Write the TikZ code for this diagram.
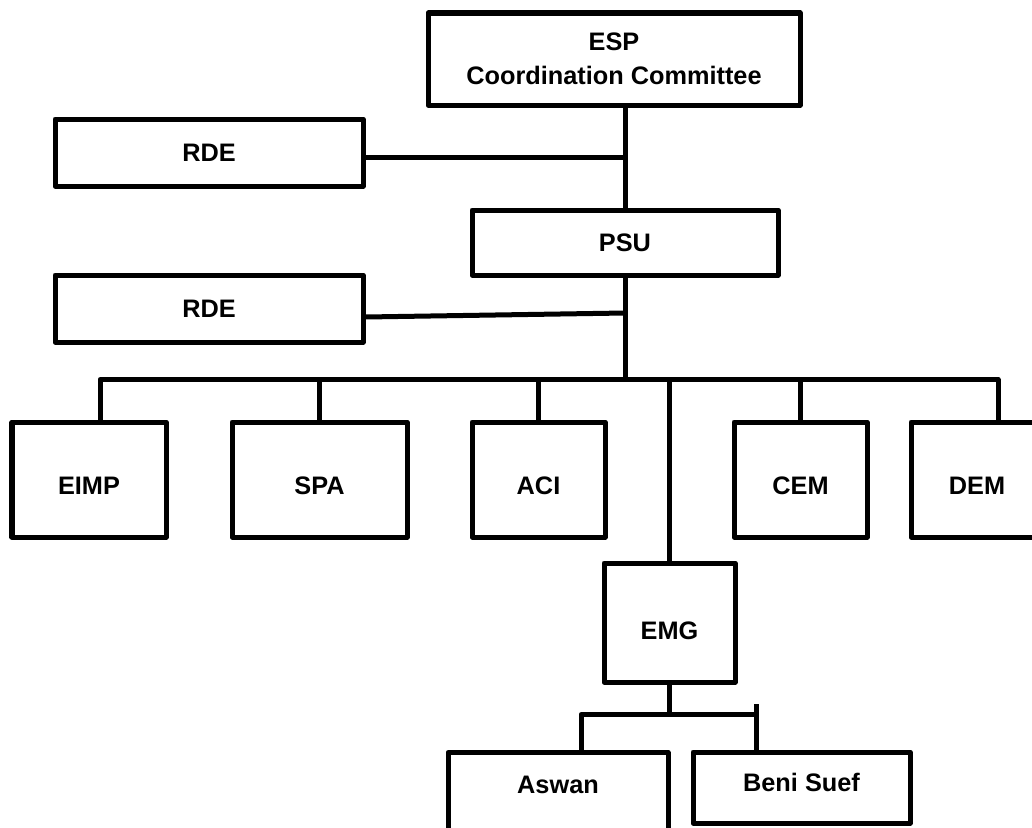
\documentclass[tikz,border=0pt]{standalone}
\usepackage{fontspec}
\setmainfont{Liberation Sans}
\usepackage{tikz}
\usetikzlibrary{positioning, calc}

\begin{document}
\begin{tikzpicture}[
  line width=0.1cm, line join=round,
  frame/.style={draw, line width=0.1cm, inner sep=0pt,
                font=\fontsize{14.4}{19.3}\selectfont\bfseries},
  unit/.style={frame, text height=0.36cm, text depth=0cm},
  head/.style={unit, minimum width=6.16cm, minimum height=1.34cm},
  dept/.style={unit, minimum height=2.30cm, text height=0.58cm}
]
\useasboundingbox (0,0) rectangle (20.64,-16.54);
\clip (0,0) rectangle (20.64,-16.54);

\node[frame, minimum width=7.44cm, minimum height=1.84cm, align=center] (esp) at (12.28,-1.18) {ESP\\Coordination Committee};
\node[head] (rde1) at (4.18,-3.05) {RDE};
\node[unit, minimum width=6.12cm, minimum height=1.30cm] (psu) at (12.50,-4.85) {PSU};
\node[head] (rde2) at (4.18,-6.17) {RDE};

\node[dept, minimum width=3.08cm] (eimp) at (1.78,-9.59)  {EIMP};
\node[dept, minimum width=3.50cm] (spa)  at (6.39,-9.59)  {SPA};
\node[dept, minimum width=2.66cm] (aci)  at (10.77,-9.59) {ACI};
\node[dept, minimum width=2.66cm] (cem)  at (16.01,-9.59) {CEM};
\node[dept, minimum width=2.64cm] (dem)  at (19.54,-9.59) {DEM};

\node[unit, minimum width=2.62cm, minimum height=2.38cm, text height=0.66cm] (emg) at (13.39,-12.45) {EMG};
\node[unit, minimum width=4.40cm, minimum height=2.14cm, text depth=0.86cm] (aswan) at (11.16,-16.12) {Aswan};
\node[unit, minimum width=4.34cm, minimum height=1.42cm, text depth=0.22cm] (bsuef) at (16.03,-15.75) {Beni Suef};

% trunk and side branches
\coordinate (j1) at (psu.north |- 0,-3.14);
\coordinate (j2) at (psu.south |- 0,-6.26);
\coordinate (bus) at (psu.south |- 0,-7.64);
\draw (psu.north |- esp.south) -- (psu.north);
\draw ([yshift=-0.09cm]rde1.east) -- (j1);
\draw ([yshift=-0.17cm]rde2.east) -- (j2);
\draw (psu.south) -- (bus);

% department bus
\draw ([xshift=0.22cm]eimp.north) -- ++(0,0.8) -| ([xshift=0.42cm]dem.north);
\foreach \n in {spa,aci,cem}
  \draw (\n.north) -- ++(0,0.8);
\draw (bus -| emg.north) -- (emg.north);

% EMG branches
\draw (emg.south) -- ++(0,-0.6) coordinate (fork);
\draw ([xshift=0.46cm]aswan.north) |- ([xshift=-0.91cm]bsuef.north |- fork);
\draw ([xshift=-0.91cm]bsuef.north) -- ++(0,0.92);
\end{tikzpicture}
\end{document}
